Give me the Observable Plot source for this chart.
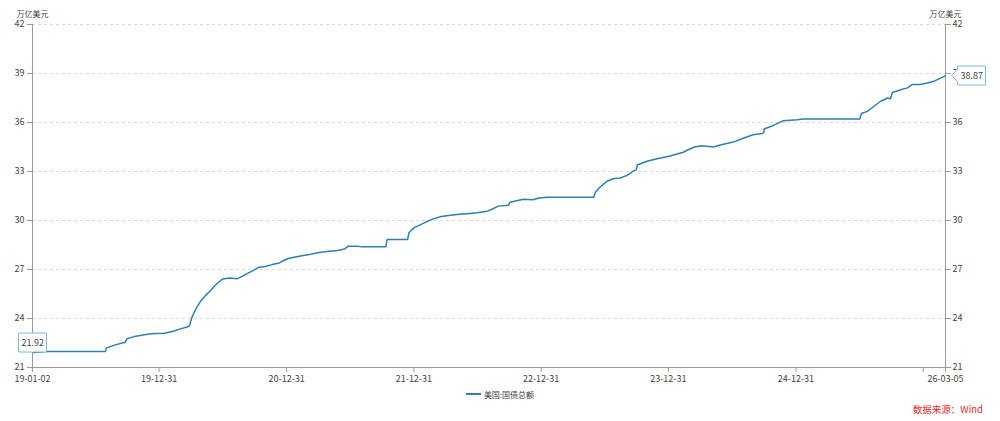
<!DOCTYPE html>
<html>
<head>
<meta charset="utf-8">
<script src="https://cdn.jsdelivr.net/npm/d3@7"></script>
<script src="https://cdn.jsdelivr.net/npm/@observablehq/plot@0.6"></script>
<style>
  html, body { margin: 0; padding: 0; background: #fff; }
  body { width: 1000px; height: 421px; overflow: hidden; font-family: "Noto Sans CJK SC", "Noto Sans", sans-serif; }
  #legend { height: 16px; display: flex; justify-content: center; align-items: center; font-size: 8px; color: #444; margin-top: 0px; }
  #legend .sw { display: inline-block; width: 15px; height: 2px; background: #2f7fb0; margin-right: 3px; }
  #source { text-align: right; padding-right: 17px; font-size: 9.5px; color: #e8282b; margin-top: 0px; line-height: 14px; }
  svg [aria-label="y-axis tick"], svg [aria-label="x-axis tick"] { stroke: #999; }
  svg [aria-label="y-axis tick label"], svg [aria-label="x-axis tick label"] { fill: #444; }
</style>
</head>
<body>
<div id="chart"></div>
<div id="legend"><span class="sw"></span><span>美国:国债总额</span></div>
<div id="source">数据来源：Wind</div>
<script>
const seriesName = "美国:国债总额";
const unitLabel = "万亿美元";
const sourceText = "数据来源：Wind";

const dates = [
  "2019-01-02","2019-01-25","2019-02-12","2019-07-30","2019-08-02","2019-08-30","2019-09-25","2019-09-30",
  "2019-10-25","2019-11-28","2019-12-20","2020-01-15","2020-02-10","2020-02-28","2020-03-20","2020-03-27",
  "2020-04-03","2020-04-15","2020-04-28","2020-05-12","2020-05-27","2020-06-10","2020-06-20","2020-07-01",
  "2020-07-20","2020-08-12","2020-08-25","2020-09-10","2020-09-27","2020-10-10","2020-10-30","2020-11-20",
  "2020-12-10","2020-12-25","2021-01-10","2021-02-17","2021-03-10","2021-03-30","2021-04-25","2021-05-26",
  "2021-06-15","2021-06-26","2021-07-22","2021-07-31","2021-10-12","2021-10-15","2021-12-13","2021-12-17",
  "2021-12-31","2022-01-15","2022-02-05","2022-02-25","2022-03-20","2022-04-15","2022-05-10","2022-06-02",
  "2022-07-01","2022-07-29","2022-08-15","2022-08-30","2022-09-28","2022-10-03","2022-10-25","2022-11-10",
  "2022-12-08","2022-12-25","2023-01-17","2023-05-31","2023-06-05","2023-06-18","2023-07-08","2023-07-26",
  "2023-08-15","2023-09-04","2023-09-21","2023-09-30","2023-10-03","2023-10-31","2023-11-29","2024-01-05",
  "2024-02-12","2024-02-23","2024-03-15","2024-04-05","2024-05-08","2024-05-28","2024-07-04","2024-08-02",
  "2024-08-30","2024-09-25","2024-09-30","2024-10-01","2024-10-27","2024-11-24","2025-01-04","2025-01-21",
  "2025-07-02","2025-07-07","2025-07-24","2025-08-11","2025-08-31","2025-09-20","2025-09-28","2025-10-04",
  "2025-10-27","2025-11-16","2025-11-30","2025-12-23","2026-01-12","2026-01-30","2026-02-19","2026-03-05"
];
const values = [
  21.92,21.95,21.98,21.98,22.20,22.40,22.55,22.76,
  22.92,23.04,23.08,23.10,23.22,23.35,23.48,23.55,
  24.05,24.60,25.05,25.40,25.72,26.05,26.25,26.42,
  26.48,26.44,26.58,26.76,26.95,27.12,27.18,27.30,
  27.40,27.58,27.70,27.86,27.93,28.02,28.10,28.17,
  28.25,28.43,28.43,28.40,28.40,28.84,28.84,29.25,
  29.55,29.70,29.92,30.10,30.25,30.32,30.38,30.42,
  30.48,30.56,30.72,30.88,30.93,31.12,31.22,31.30,
  31.27,31.38,31.42,31.42,31.75,32.05,32.40,32.56,
  32.60,32.76,33.02,33.10,33.40,33.63,33.78,33.95,
  34.18,34.30,34.50,34.58,34.50,34.62,34.80,35.04,
  35.25,35.32,35.40,35.60,35.82,36.10,36.17,36.22,
  36.22,36.55,36.68,36.98,37.30,37.50,37.45,37.84,
  38.00,38.12,38.33,38.33,38.42,38.52,38.72,38.87
];
const yTicks = [21, 24, 27, 30, 33, 36, 39, 42];
const xTickDates = ["2019-01-02","2019-12-31","2020-12-31","2021-12-31","2022-12-31","2023-12-31","2024-12-31","2025-12-31","2026-03-05"];
const xHiddenLabel = "2025-12-31";

const parse = d3.utcParse("%Y-%m-%d");
const data = dates.map((d, i) => ({date: parse(d), value: values[i]}));
const xTicks = xTickDates.map(parse);
const fmt = d3.utcFormat("%y-%m-%d");
const first = data[0], last = data[data.length - 1];
const domainX = [first.date, last.date];

const plot = Plot.plot({
  width: 1000,
  height: 386,
  marginTop: 24,
  marginBottom: 19,
  marginLeft: 32,
  marginRight: 55,
  style: {fontFamily: '"Noto Sans CJK SC", "Noto Sans", sans-serif', fontSize: "9px", color: "#444", background: "#fff"},
  x: {type: "utc", domain: domainX},
  y: {domain: [21, 42]},
  marks: [
    Plot.gridY(yTicks.filter(t => t !== 21), {stroke: "#d9d9d9", strokeOpacity: 1, strokeDasharray: "3,3"}),
    Plot.axisY(yTicks, {anchor: "left", tickSize: 5, tickPadding: 3, label: null}),
    Plot.axisY(yTicks, {anchor: "right", tickSize: 5, tickPadding: 2, label: null}),
    Plot.axisX(xTicks, {anchor: "bottom", tickSize: 5, tickPadding: 3, label: null,
      tickFormat: d => fmt(d) === fmt(parse(xHiddenLabel)) ? "" : fmt(d)}),
    Plot.ruleY([21], {stroke: "#999"}),
    Plot.ruleX(domainX, {stroke: "#999"}),
    Plot.line(data, {x: "date", y: "value", stroke: "#2f7fb0", strokeWidth: 1.5}),
    Plot.text([unitLabel], {frameAnchor: "top-left", dy: -13, textAnchor: "middle", fill: "#444", fontSize: 8}),
    Plot.text([unitLabel], {frameAnchor: "top-right", dy: -13, textAnchor: "middle", fill: "#444", fontSize: 8}),
    Plot.tip([first], {x: "date", y: "value", title: d => d.value.toFixed(2), anchor: "bottom", pointerSize: 1,
      textPadding: 3, fill: "white", stroke: "#7fb8d8", fontSize: 9, pathFilter: "none", textAnchor: "middle"}),
    Plot.tip([last], {x: "date", y: "value", title: d => d.value.toFixed(2), anchor: "left", pointerSize: 12, dx: 6,
      textPadding: 3, fill: "white", stroke: "#7fb8d8", fontSize: 9, pathFilter: "none"})
  ]
});
document.getElementById("chart").appendChild(plot);
</script>
</body>
</html>
